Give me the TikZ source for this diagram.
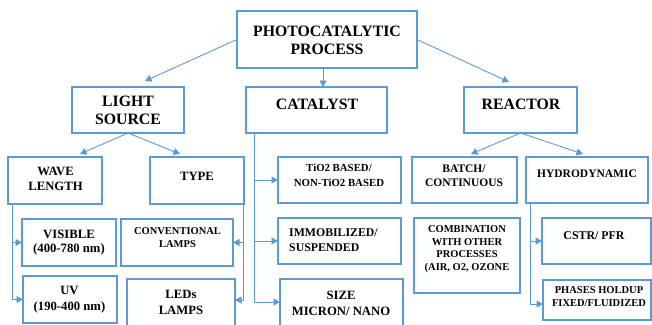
\documentclass[tikz,border=0pt]{standalone}
\usepackage{fontspec}
\setmainfont{Liberation Serif}
\usetikzlibrary{arrows.meta}
\definecolor{lb}{RGB}{91,155,213}
\newcommand\mybox[5]{\node[box,anchor=north west,minimum width={(#4)-(#2)},minimum height={(#5)-(#3)}] (#1) at (#2,#3) {};}
\begin{document}
\begin{tikzpicture}[x=1pt,y=-1pt,
  box/.style={draw=lb,line width=1.1pt,inner sep=0pt,outer sep=0pt},
  lbl/.style={font=\bfseries,align=center,inner sep=0pt},
  fA/.style={font=\fontsize{15.8}{18}\selectfont\bfseries},
  fB/.style={font=\fontsize{12.7}{15}\selectfont\bfseries},
  fC/.style={font=\fontsize{11.5}{14.5}\selectfont\bfseries},
  fD/.style={font=\fontsize{10.5}{13}\selectfont\bfseries},
  arr/.style={draw=lb,line width=0.9pt,-{Triangle[length=6.5pt,width=7pt]}}]
\useasboundingbox (0,0) rectangle (652,324);
% boxes
\mybox{top}{237}{11}{417}{68}
\mybox{light}{72}{87}{184}{133}
\mybox{cat}{246}{87}{387}{133}
\mybox{reac}{464}{87}{577}{133}
\mybox{wave}{8}{157}{102}{204}
\mybox{type}{150}{157}{244}{204}
\mybox{tio}{278}{157}{401}{203}
\mybox{batch}{412}{157}{517}{203}
\mybox{hydro}{526}{157}{648}{203}
\mybox{vis}{22}{219}{116}{266}
\mybox{conv}{121}{219}{233}{266}
\mybox{imm}{278}{218}{401}{264}
\mybox{comb}{414}{218}{520}{293}
\mybox{cstr}{542}{218}{651}{264}
\mybox{uv}{23}{276}{117}{323}
\mybox{leds}{127}{279}{235}{330}
\mybox{size}{280}{279}{403}{330}
\mybox{phases}{543}{280}{651}{320}
% texts
\node[lbl,fA] (ttop) at (327,40) {PHOTOCATALYTIC\\PROCESS};
\node[lbl,fA] (tlight) at (128,110) {LIGHT\\SOURCE};
\node[lbl,fA] (tcat) at (317,104) {CATALYST};
\node[lbl,fA] (treac) at (521,104) {REACTOR};
\node[lbl,fB] (twave) at (55.5,178.5) {WAVE\\LENGTH};
\node[lbl,fB] (ttype) at (197,176) {TYPE};
\node[lbl,font=\fontsize{10.8}{14.5}\selectfont\bfseries] (ttio) at (339,175.5) {TiO2 BASED/\\NON-TiO2 BASED};
\node[lbl,fC] (tbatch) at (464,175.5) {BATCH/\\CONTINUOUS};
\node[lbl,fC] (thydro) at (587,174) {HYDRODYNAMIC};
\node[lbl,font=\fontsize{12.7}{14}\selectfont\bfseries] (tvis) at (69,243) {VISIBLE\\(400-780 nm)};
\node[lbl,fD] (tconv) at (177.5,237.5) {CONVENTIONAL\\LAMPS};
\node[lbl,align=left,anchor=west,font=\fontsize{11.8}{15}\selectfont\bfseries] (timm) at (289,240.5) {IMMOBILIZED/\\SUSPENDED};
\node[lbl,font=\fontsize{10.5}{12.7}\selectfont\bfseries] (tcomb) at (467,249) {COMBINATION\\WITH OTHER\\PROCESSES\\(AIR, O2, OZONE};
\node[lbl,font=\fontsize{11.9}{14}\selectfont\bfseries] (tcstr) at (594,236) {CSTR/ PFR};
\node[lbl,font=\fontsize{12.7}{16}\selectfont\bfseries] (tuv) at (69.5,300) {UV\\(190-400 nm)};
\node[lbl,font=\fontsize{12.7}{16}\selectfont\bfseries] (tleds) at (181,302) {LEDs\\LAMPS};
\node[lbl,font=\fontsize{12.7}{16}\selectfont\bfseries] (tsize) at (341,303) {SIZE\\MICRON/ NANO};
\node[lbl,fD] (tphases) at (599,296.5) {PHASES HOLDUP\\FIXED/FLUIDIZED};
% connectors
\draw[arr] (top.west) -- ([xshift=17pt,yshift=6pt]light.north);
\draw[arr] ([xshift=-4pt]top.south) -- ([xshift=-4pt]top.south |- cat.north);
\draw[arr] (top.east) -- ([xshift=-11.5pt,yshift=5pt]reac.north);
\draw[arr] (light.south) -- ([xshift=25pt,yshift=3pt]wave.north);
\draw[arr] (light.south) -- ([xshift=-17pt,yshift=3pt]type.north);
\draw[arr] (reac.south) -- ([xshift=6.5pt,yshift=3pt]batch.north);
\draw[arr] (reac.south) -- ([xshift=-4pt,yshift=3pt]hydro.north);
\draw[arr] ([xshift=4pt]wave.south west) |- (vis.west);
\draw[arr] ([xshift=4pt]wave.south west) |- (uv.west);
\draw[arr] ([xshift=-1pt]type.south east) |- (conv.east);
\draw[arr] ([xshift=-1pt]type.south east) |- ([yshift=4.5pt]leds.east);
\draw[arr] ([xshift=8pt]cat.south west) |- (tio.west);
\draw[arr] ([xshift=8pt]cat.south west) |- (imm.west);
\draw[arr] ([xshift=8pt]cat.south west) |- ([yshift=2.5pt]size.west);
\draw[arr] ([xshift=4pt]hydro.south west) |- (cstr.west);
\draw[arr] ([xshift=4pt]hydro.south west) |- ([yshift=-4pt]phases.west);
\end{tikzpicture}
\end{document}
